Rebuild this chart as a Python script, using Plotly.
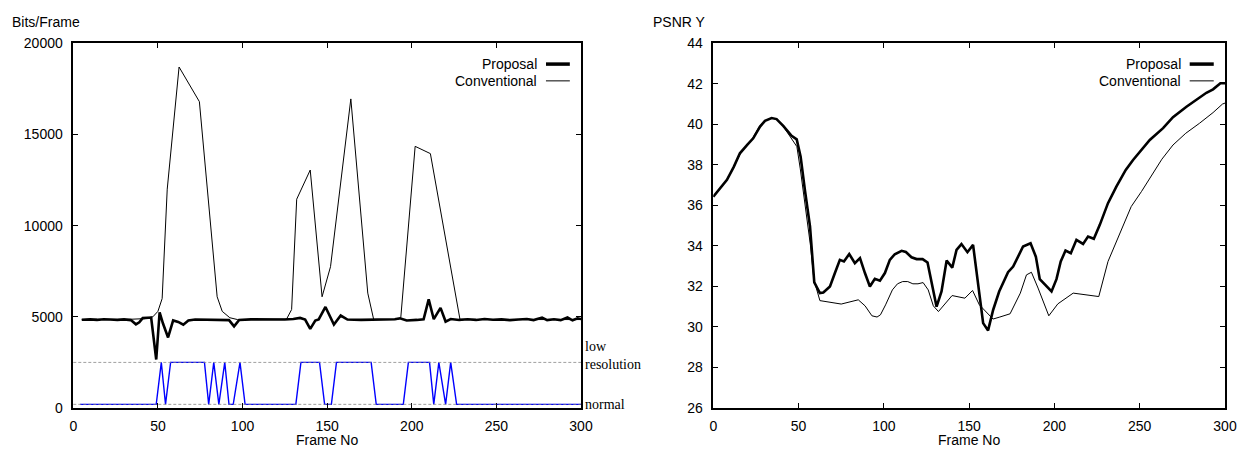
import plotly.graph_objects as go

# ---------------- data: left panel (Bits/Frame) ----------------
prop_bits_frames = [5, 10, 14, 18, 22, 26, 30, 34, 37, 39, 41, 44, 46, 49, 51, 53, 56, 59, 62, 65, 68,
                    72, 80, 88, 92, 95, 98, 105, 115, 125, 130, 134, 137, 140, 143, 145, 149, 154, 158,
                    162, 170, 180, 190, 193, 197, 203, 207, 210, 213, 217, 220, 223, 228, 233, 238, 243,
                    248, 253, 258, 263, 268, 272, 277, 280, 284, 288, 292, 295, 298, 300]
prop_bits = [4840, 4860, 4830, 4870, 4850, 4830, 4860, 4820, 4590, 4700, 4930, 4960, 4960, 2660, 5250,
             4630, 3870, 4800, 4720, 4570, 4800, 4850, 4850, 4850, 4820, 4480, 4830, 4860, 4840, 4850,
             4880, 4940, 4850, 4340, 4800, 4860, 5540, 4580, 5070, 4850, 4830, 4840, 4870, 4920, 4800,
             4830, 4870, 5960, 4870, 5490, 4740, 4880, 4830, 4870, 4830, 4880, 4840, 4860, 4820, 4850,
             4880, 4820, 4960, 4820, 4870, 4820, 4960, 4810, 4920, 4880]

conv_bits_frames = [5, 15, 25, 35, 42, 47, 50, 52.5, 55.5, 62.5, 74.5, 85, 88, 92.5, 97, 110, 120, 126,
                    129, 132, 140, 147, 152, 164, 174, 177.5, 192, 193.5, 202, 211, 228.5, 240, 260, 280, 300]
conv_bits = [4850, 4870, 4830, 4850, 4900, 5000, 5300, 6000, 12000, 18700, 16800, 6100, 5300, 4950, 4850,
             4850, 4850, 4870, 5400, 11450, 13050, 6100, 7750, 16950, 6300, 4850, 4850, 4950, 14350,
             13950, 4850, 4850, 4850, 4850, 4850]

# resolution mode: 0 = normal, 1 = low resolution
mode_frames = [4, 49, 52, 54.5, 57.5, 77.5, 80, 83, 86, 89.5, 92, 94.5, 98.5, 101.5, 131.5, 134.5, 145.5,
               148.5, 152.5, 155.5, 176, 179, 195, 198, 210.5, 213, 216, 220, 223, 226.5, 300]
mode_flags = [0, 0, 1, 0, 1, 1, 0, 1, 0, 1, 0, 0, 1, 0, 0, 1, 1, 0, 0, 1, 1, 0, 0, 1, 1, 0, 1, 0, 1, 0, 0]
mode_levels = {0: 200, 1: 2500}
mode_names = {0: "normal", 1: "low<br>resolution"}

# ---------------- data: right panel (PSNR Y) ----------------
prop_psnr_frames = [0, 4, 8, 12, 15.6, 20, 23.4, 27.4, 30.3, 34.2, 37.1, 41, 45.9, 48.9, 51.2, 53.7, 56.7,
                    59.2, 62.5, 64.5, 68.4, 71.3, 74.2, 76.6, 79.7, 83, 86, 88.9, 91.8, 94.7, 97.7, 100.6,
                    103.5, 106.4, 110.4, 112.9, 116.2, 119.2, 122.7, 125.6, 128, 130.9, 133.8, 136.8, 140.1,
                    142.6, 145.5, 149, 152.3, 155.3, 158.2, 161.1, 164.1, 167.6, 172.8, 175.8, 181.6, 186,
                    189.1, 191.4, 198.3, 201.2, 203.7, 206.5, 209.6, 212.9, 216.8, 219.7, 223.1, 226.6,
                    231.4, 236.3, 241.8, 246.1, 250, 255.9, 263.7, 269.5, 277.4, 283.2, 289.1, 293, 297.3, 300]
prop_psnr = [36.43, 36.85, 37.26, 37.9, 38.57, 39.0, 39.31, 39.89, 40.17, 40.31, 40.26, 39.92, 39.43, 39.26,
             38.4, 36.76, 34.96, 32.2, 31.67, 31.7, 32.0, 32.66, 33.31, 33.23, 33.6, 33.15, 33.4, 32.66,
             32.0, 32.38, 32.28, 32.66, 33.31, 33.59, 33.76, 33.7, 33.44, 33.35, 33.35, 33.18, 32.16, 31.0,
             31.75, 33.28, 32.93, 33.8, 34.09, 33.69, 34.05, 32.0, 30.19, 29.83, 30.85, 31.75, 32.7, 32.98,
             33.97, 34.13, 33.47, 32.36, 31.75, 32.36, 33.23, 33.77, 33.64, 34.3, 34.1, 34.46, 34.35, 35.04,
             36.11, 36.93, 37.75, 38.24, 38.65, 39.23, 39.81, 40.35, 40.87, 41.2, 41.56, 41.73, 42.03, 42.03]

conv_psnr_frames = [0, 4, 8, 12, 16, 20, 23, 27, 30, 34, 37, 41, 46, 49, 51, 54, 57, 59, 62.5, 75, 85, 89,
                    93, 96, 98, 101, 105, 108, 111, 114, 117, 120, 123, 126, 129, 132, 136, 140, 147.5, 152,
                    156, 164, 168, 174, 180, 183.6, 186.5, 190.4, 196.7, 202, 211, 226, 231.4, 241, 245, 251,
                    258, 263, 269.5, 277, 285, 293, 298.5, 300]
conv_psnr = [36.43, 36.85, 37.26, 37.9, 38.57, 39.0, 39.31, 39.89, 40.17, 40.31, 40.26, 39.9, 39.3, 38.9,
             37.8, 36.0, 34.0, 32.33, 31.3, 31.13, 31.34, 31.04, 30.55, 30.49, 30.6, 31.09, 31.83, 32.13,
             32.24, 32.24, 32.13, 32.13, 32.19, 31.83, 31.04, 30.76, 31.18, 31.55, 31.42, 31.8, 31.09, 30.39,
             30.49, 30.65, 31.67, 32.57, 32.7, 31.92, 30.55, 31.14, 31.67, 31.5, 33.23, 35.2, 35.94, 36.68,
             37.59, 38.28, 38.98, 39.56, 40.05, 40.58, 41.0, 41.05]

x_ticks = [0, 50, 100, 150, 200, 250, 300]
bits_ticks = [0, 5000, 10000, 15000, 20000]
psnr_ticks = [26, 28, 30, 32, 34, 36, 38, 40, 42, 44]
series_names = ["Proposal", "Conventional"]

# ---------------- figure ----------------
SANS = "Liberation Sans, Arial, sans-serif"
SERIF = "Liberation Serif, Times New Roman, serif"
THICK, THIN = 2.6, 1.0

fig = go.Figure()
fig.add_trace(go.Scatter(x=conv_bits_frames, y=conv_bits, mode="lines",
                         line=dict(color="black", width=THIN), xaxis="x", yaxis="y", showlegend=False))
fig.add_trace(go.Scatter(x=prop_bits_frames, y=prop_bits, mode="lines",
                         line=dict(color="black", width=THICK), xaxis="x", yaxis="y", showlegend=False))
fig.add_trace(go.Scatter(x=mode_frames, y=[mode_levels[m] for m in mode_flags], mode="lines",
                         line=dict(color="#0000ff", width=1.4), xaxis="x", yaxis="y", showlegend=False))
fig.add_trace(go.Scatter(x=conv_psnr_frames, y=conv_psnr, mode="lines",
                         line=dict(color="black", width=THIN), xaxis="x2", yaxis="y2", showlegend=False))
fig.add_trace(go.Scatter(x=prop_psnr_frames, y=prop_psnr, mode="lines",
                         line=dict(color="black", width=THICK), xaxis="x2", yaxis="y2", showlegend=False))

W, H = 1237, 449
L1, R1 = 73.3, 581.0
L2, R2 = 713.3, 1225.0
TOP, BOT = 43.3, 408.0


def axis_style(**kw):
    d = dict(showline=True, linecolor="black", linewidth=1.5, mirror="ticks", ticks="inside",
             ticklen=5, tickwidth=1, tickcolor="black", showgrid=False, zeroline=False,
             automargin=False,
             tickfont=dict(family=SANS, size=14, color="black"), ticklabelstandoff=6)
    d.update(kw)
    return d


ydom = [1 - BOT / H, 1 - TOP / H]
fig.update_layout(
    width=W, height=H, paper_bgcolor="white", plot_bgcolor="white",
    margin=dict(l=0, r=0, t=0, b=0, pad=0, autoexpand=False),
    xaxis=axis_style(domain=[L1 / W, R1 / W], range=[0, 300], tickvals=x_ticks, anchor="y",
                     ticklabelstandoff=4),
    yaxis=axis_style(domain=ydom, range=[0, 20000], tickvals=bits_ticks, tickformat="d", anchor="x"),
    xaxis2=axis_style(domain=[L2 / W, R2 / W], range=[0, 300], tickvals=x_ticks, anchor="y2",
                      ticklabelstandoff=4),
    yaxis2=axis_style(domain=ydom, range=[26, 44], tickvals=psnr_ticks, anchor="x2"),
    showlegend=False,
)

shapes = []
annotations = []
# reference dashed lines for resolution modes
for m, lvl in mode_levels.items():
    shapes.append(dict(type="line", xref="x domain", yref="y", x0=0, x1=1, y0=lvl, y1=lvl,
                       line=dict(color="#888888", width=0.8, dash="3px,2px")))
annotations.append(dict(xref="x domain", yref="y", x=1.004, y=mode_levels[0], text=mode_names[0],
                        showarrow=False, xanchor="left", yanchor="middle",
                        font=dict(family=SERIF, size=14, color="black")))
annotations.append(dict(xref="x domain", yref="y", x=1.004, y=mode_levels[1], text=mode_names[1],
                        showarrow=False, xanchor="left", yanchor="bottom", yshift=-12,
                        font=dict(family=SERIF, size=14, color="black"), align="left"))

# legends (text left of sample line, gnuplot style)
for xr, yr in [("x domain", "y domain"), ("x2 domain", "y2 domain")]:
    for name, ypos, w in [(series_names[0], 0.943, 3.5), (series_names[1], 0.897, 1.0)]:
        annotations.append(dict(xref=xr, yref=yr, x=0.918, y=ypos, text=name, showarrow=False,
                                xanchor="right", yanchor="middle",
                                font=dict(family=SANS, size=14, color="black")))
        shapes.append(dict(type="line", xref=xr, yref=yr, x0=0.931, x1=0.978, y0=ypos, y1=ypos,
                           line=dict(color="black", width=w)))

# axis titles
annotations += [
    dict(xref="paper", yref="paper", x=10 / W, y=1 - 22 / H, text="Bits/Frame", showarrow=False,
         xanchor="left", yanchor="middle", font=dict(family=SANS, size=14, color="black")),
    dict(xref="paper", yref="paper", x=651 / W, y=1 - 22 / H, text="PSNR Y", showarrow=False,
         xanchor="left", yanchor="middle", font=dict(family=SANS, size=14, color="black")),
    dict(xref="paper", yref="paper", x=(L1 + R1) / 2 / W, y=1 - 440 / H, text="Frame No", showarrow=False,
         xanchor="center", yanchor="middle", font=dict(family=SANS, size=14, color="black")),
    dict(xref="paper", yref="paper", x=(L2 + R2) / 2 / W, y=1 - 440 / H, text="Frame No", showarrow=False,
         xanchor="center", yanchor="middle", font=dict(family=SANS, size=14, color="black")),
]

fig.update_layout(shapes=shapes, annotations=annotations)
fig.write_html("out.html")
